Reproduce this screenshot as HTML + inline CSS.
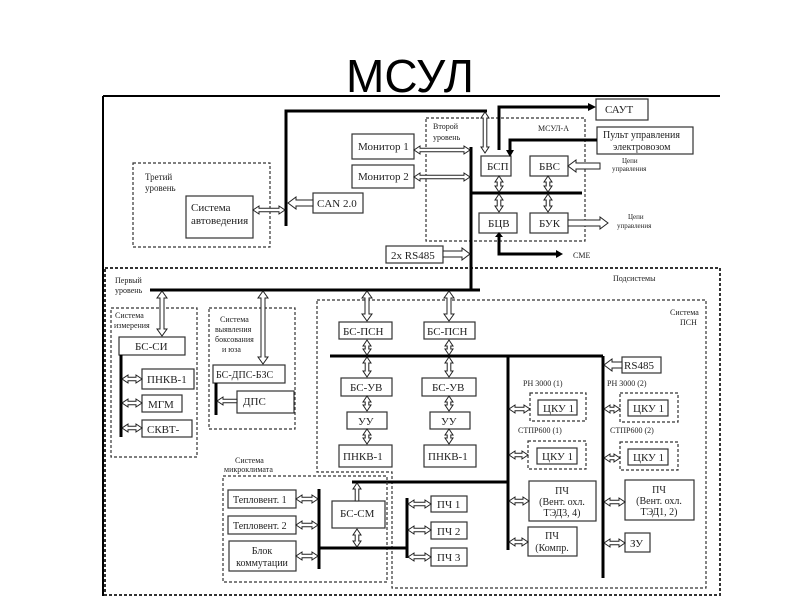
<!DOCTYPE html>
<html><head><meta charset="utf-8"><style>
html,body{margin:0;padding:0;background:#fff}
svg{display:block}
text{font-family:"Liberation Serif","DejaVu Serif",serif;fill:#222}
.b{fill:#fff;stroke:#333;stroke-width:1.2}
.d{fill:none;stroke:#333;stroke-width:1.2;stroke-dasharray:3,2}
.t{stroke:#000;stroke-width:3;fill:none}
</style></head><body>
<svg id="s" width="800" height="600" viewBox="0 0 800 600">
<text x="410" y="92" text-anchor="middle" style="font-family:'Liberation Sans',sans-serif;font-size:46px;fill:#000">МСУЛ</text>
<path d="M103,96H720M103,96V596" stroke="#000" stroke-width="2" fill="none"/>
<rect x="105" y="268" width="615" height="327" fill="none" stroke="#333" stroke-width="2" stroke-dasharray="3,2"/>
<rect class="d" x="133" y="163" width="137" height="84"/>
<text x="145" y="180" font-size="9">Третий</text><text x="145" y="191" font-size="9">уровень</text>
<rect class="b" x="186" y="196" width="67" height="42"/>
<text x="191" y="211" font-size="11">Система</text><text x="191" y="224" font-size="11">автоведения</text>
<path class="t" d="M487,111H286V226"/>
<rect class="b" x="313" y="193" width="50" height="20"/><text x="317" y="207" font-size="11">CAN 2.0</text>
<rect class="d" x="426" y="118" width="159" height="123"/>
<text x="433" y="129" font-size="8">Второй</text><text x="433" y="140" font-size="8">уровень</text>
<text x="538" y="131" font-size="8">МСУЛ-А</text>
<rect class="b" x="352" y="134" width="62" height="25"/><text x="358" y="150" font-size="11">Монитор 1</text>
<rect class="b" x="352" y="165" width="62" height="23"/><text x="358" y="180" font-size="11">Монитор 2</text>
<path class="t" d="M471,147V290M150,290H480M471,193H582"/>
<rect class="b" x="481" y="156" width="30" height="20"/><text x="487" y="170" font-size="11">БСП</text>
<rect class="b" x="530" y="156" width="38" height="20"/><text x="539" y="170" font-size="11">БВС</text>
<rect class="b" x="479" y="213" width="38" height="20"/><text x="488" y="227" font-size="11">БЦВ</text>
<rect class="b" x="530" y="213" width="38" height="20"/><text x="539" y="227" font-size="11">БУК</text>
<rect class="b" x="596" y="99" width="52" height="21"/><text x="605" y="113" font-size="11">САУТ</text>
<rect class="b" x="597" y="127" width="96" height="27"/><text x="603" y="138" font-size="10">Пульт управления</text><text x="613" y="150" font-size="10">электровозом</text>
<path class="t" d="M499,150V107H588M597,140H510V150M499,237V254H556"/>
<path d="M588,103L596,107L588,111z M506,150L510,157L514,150z M495,237L499,232L503,237z M556,250L563,254L556,258z"/>
<text x="622" y="163" font-size="7">Цепи</text><text x="612" y="171" font-size="7">управления</text>
<text x="628" y="219" font-size="7">Цепи</text><text x="617" y="228" font-size="7">управления</text>
<text x="573" y="258" font-size="8">СМЕ</text>
<rect class="b" x="386" y="246" width="57" height="17"/><text x="391" y="259" font-size="11">2x RS485</text>
<text x="613" y="281" font-size="8">Подсистемы</text>
<text x="115" y="283" font-size="8">Первый</text><text x="115" y="293" font-size="8">уровень</text>
<rect class="d" x="111" y="308" width="86" height="149"/>
<text x="115" y="318" font-size="8">Система</text><text x="114" y="328" font-size="8">измерения</text>
<rect class="b" x="119" y="337" width="66" height="18"/><text x="135" y="350" font-size="11">БС-СИ</text>
<path class="t" d="M121,355V437"/>
<rect class="b" x="142" y="369" width="52" height="20"/><text x="147" y="383" font-size="11">ПНКВ-1</text>
<rect class="b" x="142" y="395" width="40" height="17"/><text x="148" y="408" font-size="11">МГМ</text>
<rect class="b" x="142" y="420" width="50" height="17"/><text x="147" y="433" font-size="11">СКВТ-</text>
<rect class="d" x="209" y="308" width="86" height="121"/>
<text x="220" y="322" font-size="8">Система</text><text x="215" y="332" font-size="8">выявления</text><text x="215" y="342" font-size="8">боксования</text><text x="222" y="352" font-size="8">и юза</text>
<rect class="b" x="213" y="365" width="72" height="18"/><text x="216" y="378" font-size="10">БС-ДПС-БЗС</text>
<path class="t" d="M216,383V415"/>
<rect class="b" x="237" y="391" width="57" height="22"/><text x="243" y="405" font-size="11">ДПС</text>
<path class="d" d="M317,300H706V588H392V472H317Z"/>
<text x="670" y="315" font-size="8">Система</text><text x="680" y="325" font-size="8">ПСН</text>
<rect class="b" x="339" y="322" width="53" height="17"/><text x="343" y="335" font-size="11">БС-ПСН</text>
<rect class="b" x="424" y="322" width="51" height="17"/><text x="427" y="335" font-size="11">БС-ПСН</text>
<path class="t" d="M330,356H603M508,356V550M603,356V578M352,482H508"/>
<rect class="b" x="341" y="378" width="51" height="18"/><text x="350" y="391" font-size="11">БС-УВ</text>
<rect class="b" x="422" y="378" width="54" height="18"/><text x="432" y="391" font-size="11">БС-УВ</text>
<rect class="b" x="347" y="412" width="40" height="17"/><text x="358" y="425" font-size="11">УУ</text>
<rect class="b" x="430" y="412" width="40" height="17"/><text x="441" y="425" font-size="11">УУ</text>
<rect class="b" x="339" y="445" width="53" height="22"/><text x="343" y="460" font-size="11">ПНКВ-1</text>
<rect class="b" x="424" y="445" width="52" height="22"/><text x="428" y="460" font-size="11">ПНКВ-1</text>
<rect class="b" x="622" y="357" width="39" height="16"/><text x="624" y="369" font-size="11">RS485</text>
<text x="523" y="386" font-size="8">РН 3000 (1)</text><text x="607" y="386" font-size="8">РН 3000 (2)</text>
<text x="518" y="433" font-size="8">СТПР600 (1)</text><text x="610" y="433" font-size="8">СТПР600 (2)</text>
<rect class="d" x="530" y="393" width="56" height="28"/><rect class="b" x="538" y="400" width="39" height="15"/><text x="543" y="412" font-size="11">ЦКУ 1</text>
<rect class="d" x="620" y="393" width="58" height="29"/><rect class="b" x="628" y="400" width="40" height="16"/><text x="633" y="412" font-size="11">ЦКУ 1</text>
<rect class="d" x="528" y="441" width="58" height="28"/><rect class="b" x="537" y="448" width="40" height="16"/><text x="542" y="460" font-size="11">ЦКУ 1</text>
<rect class="d" x="620" y="442" width="58" height="28"/><rect class="b" x="628" y="449" width="40" height="16"/><text x="633" y="461" font-size="11">ЦКУ 1</text>
<rect class="b" x="529" y="481" width="67" height="40"/><text x="562" y="494" font-size="10" text-anchor="middle">ПЧ</text><text x="562" y="505" font-size="10" text-anchor="middle">(Вент. охл.</text><text x="562" y="516" font-size="10" text-anchor="middle">ТЭД3, 4)</text>
<rect class="b" x="625" y="480" width="69" height="40"/><text x="659" y="493" font-size="10" text-anchor="middle">ПЧ</text><text x="659" y="504" font-size="10" text-anchor="middle">(Вент. охл.</text><text x="659" y="515" font-size="10" text-anchor="middle">ТЭД1, 2)</text>
<rect class="b" x="528" y="527" width="49" height="29"/><text x="552" y="539" font-size="10" text-anchor="middle">ПЧ</text><text x="552" y="551" font-size="10" text-anchor="middle">(Компр.</text>
<rect class="b" x="625" y="533" width="25" height="19"/><text x="630" y="547" font-size="11">ЗУ</text>
<rect class="d" x="223" y="476" width="164" height="106"/>
<text x="235" y="463" font-size="8">Система</text><text x="224" y="472" font-size="8">микроклимата</text>
<rect class="b" x="228" y="490" width="68" height="18"/><text x="233" y="503" font-size="10">Тепловент. 1</text>
<rect class="b" x="228" y="516" width="68" height="18"/><text x="233" y="529" font-size="10">Тепловент. 2</text>
<rect class="b" x="229" y="541" width="67" height="30"/><text x="262" y="554" font-size="10" text-anchor="middle">Блок</text><text x="262" y="566" font-size="10" text-anchor="middle">коммутации</text>
<path class="t" d="M319,489V569M319,548H407M407,498V558"/>
<rect class="b" x="332" y="501" width="53" height="27"/><text x="340" y="517" font-size="11">БС-СМ</text>
<rect class="b" x="431" y="496" width="36" height="16"/><text x="437" y="508" font-size="11">ПЧ 1</text>
<rect class="b" x="431" y="522" width="36" height="17"/><text x="437" y="535" font-size="11">ПЧ 2</text>
<rect class="b" x="431" y="548" width="36" height="18"/><text x="437" y="561" font-size="11">ПЧ 3</text>
<g id="ar"></g>
</svg>
<script>
var g=document.getElementById('ar'),NS='http://www.w3.org/2000/svg';
function A(x1,y1,x2,y2,dbl,s,w,h){s=s||1.8;w=w||4;h=h||6;
var dx=x2-x1,dy=y2-y1,L=Math.hypot(dx,dy),ux=dx/L,uy=dy/L,vx=-uy,vy=ux;
var p=dbl?[[0,0],[h,w],[h,s],[L-h,s],[L-h,w],[L,0],[L-h,-w],[L-h,-s],[h,-s],[h,-w]]:[[0,s],[L-h,s],[L-h,w],[L,0],[L-h,-w],[L-h,-s],[0,-s]];
var e=document.createElementNS(NS,'polygon');
e.setAttribute('points',p.map(function(q){return (x1+ux*q[0]+vx*q[1]).toFixed(1)+','+(y1+uy*q[0]+vy*q[1]).toFixed(1)}).join(' '));
e.setAttribute('fill','#fff');e.setAttribute('stroke','#222');e.setAttribute('stroke-width','1');g.appendChild(e);}
A(253,210,285,210,1);A(313,203,288,203,0,3,6,8);
A(414,150,470,150,1);A(414,177,470,177,1);A(443,254,470,254,0,3,6,8);
A(485,112,485,153,1);A(499,176,499,192,1);A(548,176,548,192,1);A(499,194,499,212,1);A(548,194,548,212,1);
A(600,166,568,166,0,3,6,8);A(568,223,608,223,0,3,6,8);
A(162,291,162,336,1,2,5,7);A(263,291,263,364,1,2,5,7);A(367,291,367,321,1,2,5,7);A(449,291,449,321,1,2,5,7);
A(122,379,142,379,1);A(122,403,142,403,1);A(122,428,142,428,1);A(237,401,217,401,0);
A(367,340,367,355,1);A(449,340,449,355,1);A(367,357,367,377,1);A(449,357,449,377,1);
A(367,396,367,411,1);A(449,396,449,411,1);A(367,429,367,444,1);A(449,429,449,444,1);
A(622,365,604,365,0,3,6,8);
A(509,409,530,409,1);A(509,455,528,455,1);A(604,409,620,409,1);A(604,458,620,458,1);
A(509,501,529,501,1);A(509,542,528,542,1);A(604,502,625,502,1);A(604,543,625,543,1);
A(296,499,318,499,1);A(296,525,318,525,1);A(296,556,318,556,1);
A(357,501,357,483,0);A(357,529,357,547,1);
A(408,504,431,504,1);A(408,530,431,530,1);A(408,557,431,557,1);
</script>
</body></html>
